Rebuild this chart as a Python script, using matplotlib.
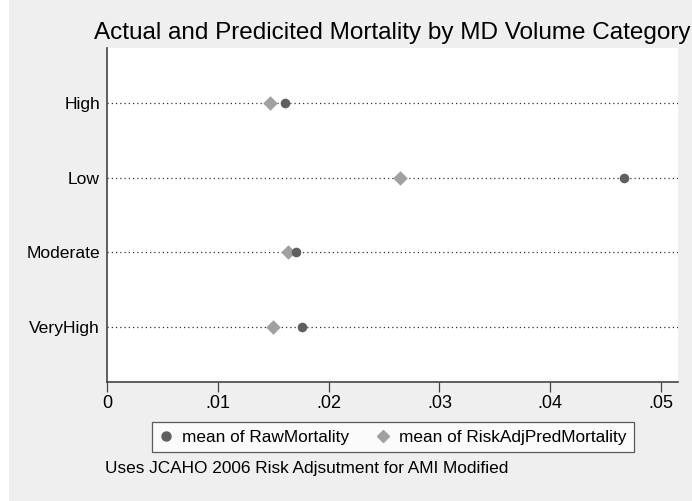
import matplotlib
matplotlib.use('Agg')
import matplotlib.pyplot as plt
from matplotlib.lines import Line2D
from matplotlib.patches import Rectangle

plt.rcParams['font.family'] = ['Liberation Sans', 'DejaVu Sans']

# data
categories = ['High', 'Low', 'Moderate', 'VeryHigh']
raw_mortality = [0.0161, 0.0467, 0.0171, 0.0176]
pred_mortality = [0.0147, 0.0264, 0.0163, 0.0150]
xticks = [0, 0.01, 0.02, 0.03, 0.04, 0.05]
xtick_labels = ['0', '.01', '.02', '.03', '.04', '.05']

bg = '#efefef'
dark = '#606060'
light = '#a0a0a0'

fig = plt.figure(figsize=(6.92, 5.01), dpi=100)
fig.patch.set_facecolor('white')
# gray graph region (white strip at left edge like the original)
fig.patches.append(Rectangle((9 / 692, 0), 1, 1, transform=fig.transFigure,
                             facecolor=bg, edgecolor='none', zorder=-10))

ax = fig.add_axes([107 / 692, 1 - 382 / 501, (678 - 107) / 692, (382 - 48) / 501])
ax.set_facecolor('white')

ypos = list(range(1, len(categories) + 1))
for y in ypos:
    ax.axhline(y, color='#333333', linestyle=(0, (1, 2.4)), linewidth=0.9, zorder=1)

ax.scatter(pred_mortality, ypos, marker='D', s=55, color=light, zorder=3,
           linewidths=0)
ax.scatter(raw_mortality, ypos, marker='o', s=48, color=dark, zorder=4,
           linewidths=0)

ax.set_xlim(0, 0.05153)
ax.set_ylim(4.737, 0.263)
ax.set_yticks(ypos)
ax.set_yticklabels(categories, fontsize=12.6)
ax.tick_params(axis='y', length=0, pad=5)
ax.set_xticks(xticks)
ax.set_xticklabels(xtick_labels, fontsize=13)
ax.tick_params(axis='x', length=7, width=0.9, color='#444444', pad=2)

for side in ['top', 'right']:
    ax.spines[side].set_visible(False)
for side in ['left', 'bottom']:
    ax.spines[side].set_color('#444444')
    ax.spines[side].set_linewidth(1.2)

fig.text(392 / 692, 1 - 33 / 501, 'Actual and Predicited Mortality by MD Volume Category',
         ha='center', va='center', fontsize=17.5)

handles = [
    Line2D([], [], marker='o', linestyle='none', color=dark, markersize=6.5),
    Line2D([], [], marker='D', linestyle='none', color=light, markersize=6),
]
leg = fig.legend(handles, ['mean of RawMortality', 'mean of RiskAdjPredMortality'],
                 loc='center', bbox_to_anchor=(393 / 692, 1 - 437 / 501),
                 ncol=2, fontsize=12.4, frameon=True, fancybox=False,
                 handlelength=0.7, handletextpad=0.6, columnspacing=1.6,
                 borderpad=0.45)
leg.get_frame().set_edgecolor('#333333')
leg.get_frame().set_linewidth(0.9)
leg.get_frame().set_facecolor('white')

fig.text(105 / 692, 1 - 468 / 501, 'Uses JCAHO 2006 Risk Adjsutment for AMI Modified',
         ha='left', va='center', fontsize=12.4)

fig.savefig('out.png', dpi=100, facecolor=fig.get_facecolor())
